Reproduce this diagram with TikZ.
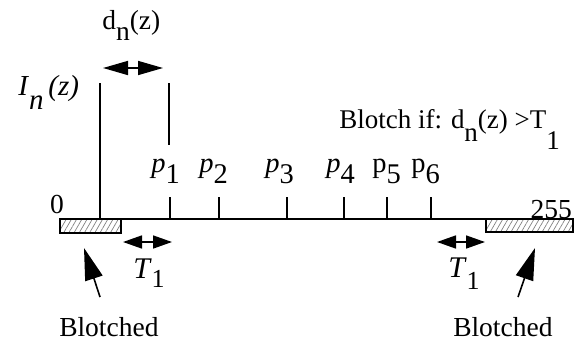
\documentclass[tikz,border=0pt]{standalone}
\usepackage{fontspec}
\setmainfont{Liberation Serif}
\usetikzlibrary{arrows.meta,patterns.meta}
\newcommand{\low}[2][0.4em]{\raisebox{-#1}{#2}}

\begin{document}
\begin{tikzpicture}[x=1pt,y=-1pt,line width=2.5pt,
    lbl/.style={font=\fontsize{27.5}{30}\selectfont, inner sep=0pt},
    gap/.style={{Triangle[length=19pt,width=13pt]}-{Triangle[length=19pt,width=13pt]}, line width=1.6pt},
    hatch/.style={draw, line width=2pt, pattern={Lines[angle=60,distance=4.5pt,line width=0.7pt]}, pattern color=gray},
    ptr/.style={-{Triangle[length=32pt,width=18pt]}, line width=1.6pt}]
    \useasboundingbox (0,0) rectangle (578,343);

    % Axis
    \coordinate (a0) at (60,219);
    \coordinate (a1) at (573,219);
    \draw (a0) -- (a1);
    \node[lbl, anchor=base] (zero) at (57,213) {0};
    \node[lbl, anchor=base east] (top) at (573,218) {255};

    % Blotched ranges
    \draw[hatch] (60,219) rectangle (121,233);
    \draw[hatch] (486,219) rectangle (573,232);

    % Peaks
    \foreach \x/\n in {170/1,219/2,287/3,344/4,387/5,431/6}
        \draw (\x,197) -- (\x,219);
    \node[lbl, font=\fontsize{28.5}{30}\selectfont, anchor=base west] (p1) at (150,172) {\textit{p}\low{1}};
    \node[lbl, font=\fontsize{28.5}{30}\selectfont, anchor=base west] (p2) at (198,172) {\textit{p}\low{2}};
    \node[lbl, font=\fontsize{28.5}{30}\selectfont, anchor=base west] (p3) at (264,172) {\textit{p}\low{3}};
    \node[lbl, font=\fontsize{28.5}{30}\selectfont, anchor=base west] (p4) at (325,172) {\textit{p}\low{4}};
    \node[lbl, font=\fontsize{28.5}{30}\selectfont, anchor=base west] (p5) at (371,172) {p\low{5}};
    \node[lbl, font=\fontsize{28.5}{30}\selectfont, anchor=base west] (p6) at (410,172) {p\low{6}};

    % Intensity and distance
    \draw (100,83) -- (100,219);
    \draw (169,83) -- (169,145);
    \node[lbl, font=\fontsize{29}{30}\selectfont, anchor=base west] (In) at (17,95) {\textit{I}\low[0.5em]{\textit{n}}\,\textit{(z)}};
    \node[lbl, anchor=base west] (dn) at (101,29) {d\low{n}(z)};
    \coordinate (d0) at (103,68);
    \coordinate (d1) at (163,68);
    \draw[gap, {Triangle[length=25pt,width=14pt]}-{Triangle[length=25pt,width=14pt]}] (d0) -- (d1);
    \node[lbl, font=\fontsize{27}{29}\selectfont, anchor=base west] (rule) at (338,128)
        {Blotch if: d\low[0.5em]{n}(z) >T\low[0.8em]{1}};

    % Thresholds
    \coordinate (t0) at (123,242);
    \coordinate (t1) at (172,242);
    \coordinate (t2) at (437,242);
    \coordinate (t3) at (485,242);
    \draw[gap] (t0) -- (t1);
    \draw[gap] (t2) -- (t3);
    \node[lbl, font=\fontsize{30}{32}\selectfont, anchor=base west] (T1a) at (132,278) {\textit{T}\low[0.3em]{\fontsize{26}{28}\selectfont 1}};
    \node[lbl, font=\fontsize{30}{32}\selectfont, anchor=base west] (T1b) at (447,277) {\textit{T}\low[0.4em]{\fontsize{26}{28}\selectfont 1}};

    % Blotched labels
    \node[lbl, anchor=base west] (bl) at (58,336) {Blotched};
    \node[lbl, anchor=base west] (br) at (452,336) {Blotched};
    \coordinate (bla) at (100,297);
    \coordinate (blb) at (84,248);
    \coordinate (bra) at (518,297);
    \coordinate (brb) at (535,248);
    \draw[ptr] (bla) -- (blb);
    \draw[ptr] (bra) -- (brb);
\end{tikzpicture}
\end{document}
